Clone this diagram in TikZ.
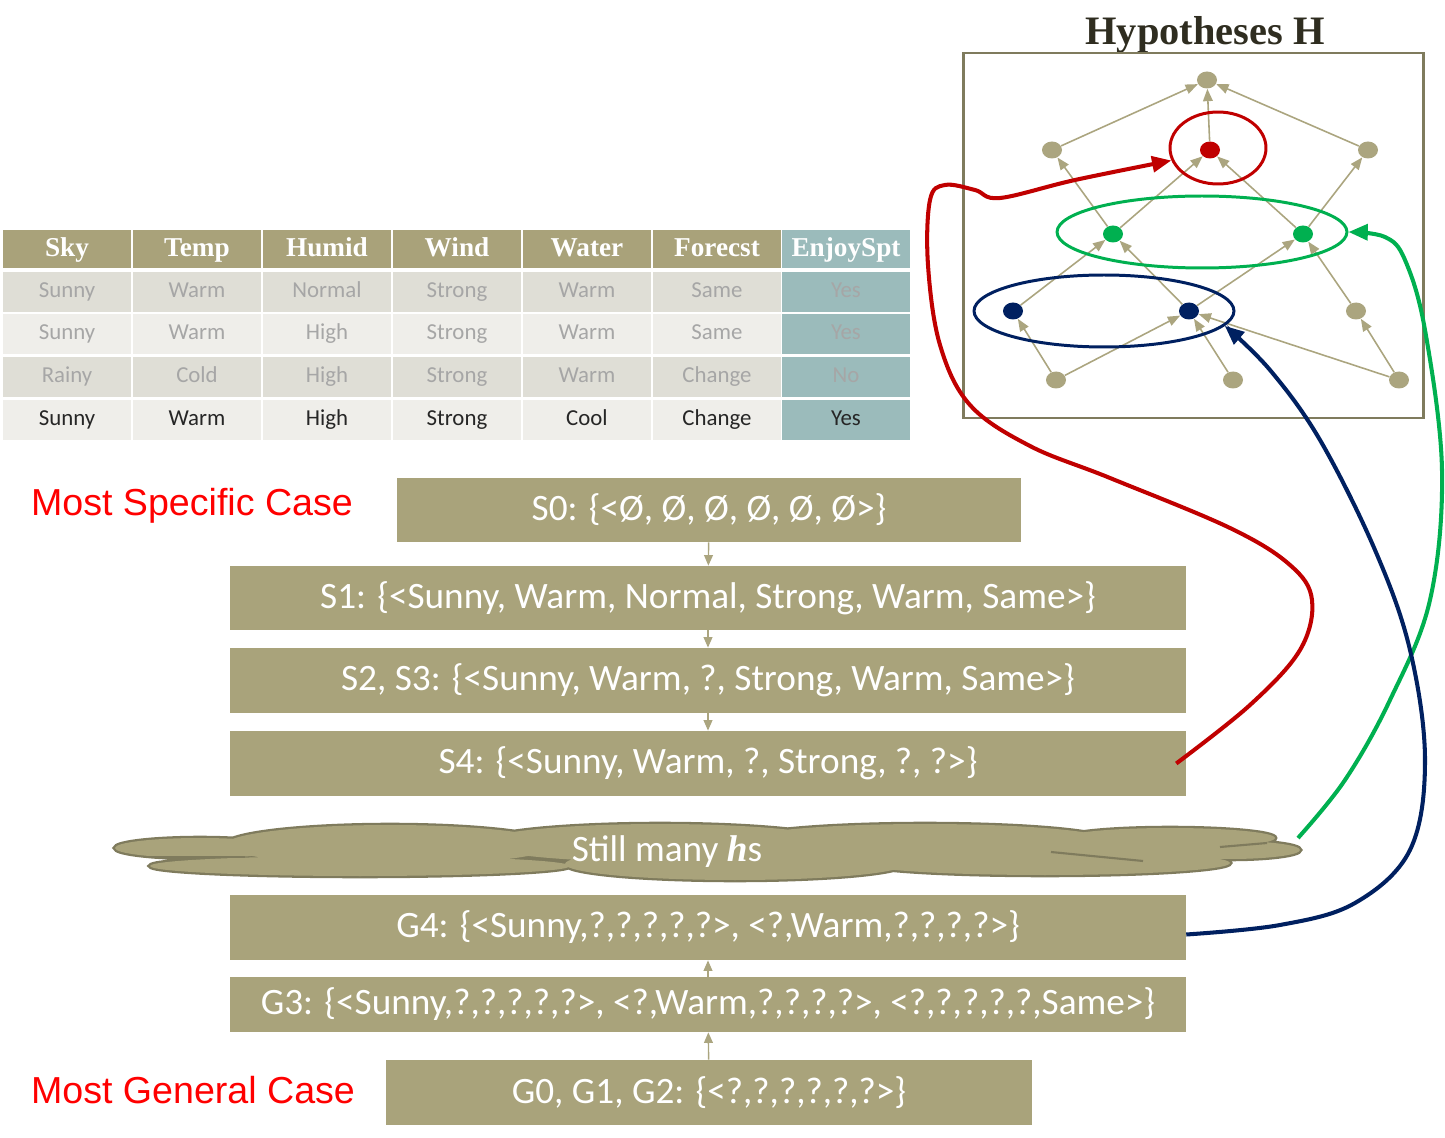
\documentclass[tikz,border=0pt]{standalone}
\usepackage{fontspec}
\setmainfont{Carlito}
\newfontfamily\headfont{Liberation Serif}
\newfontfamily\casefont{Liberation Sans}
\usetikzlibrary{arrows.meta,shapes.geometric}

\definecolor{boxtan}{HTML}{A9A37B}
\definecolor{headtan}{HTML}{A9A27A}
\definecolor{headteal}{HTML}{9BBBBB}
\definecolor{rowa}{HTML}{DFDED6}
\definecolor{rowb}{HTML}{EFEEEA}
\definecolor{fade}{HTML}{A6A6A6}
\definecolor{ink}{HTML}{262626}
\definecolor{frame}{HTML}{7F7B5D}
\definecolor{edgetan}{HTML}{ABA57F}
\definecolor{hred}{HTML}{C00000}
\definecolor{hgreen}{HTML}{00B050}
\definecolor{hnavy}{HTML}{002060}
\definecolor{casered}{HTML}{FF0000}
\definecolor{titleink}{HTML}{2F2D20}

\begin{document}
\begin{tikzpicture}[x=0.02cm, y=-0.02cm,
    stepbox/.style = {fill=boxtan, inner sep=0pt, text=white,
                      font=\fontsize{21.2}{25}\selectfont},
    flow/.style    = {draw=edgetan, line width=0.8pt, -{Triangle[length=6pt,width=5pt]}},
    cell/.style    = {minimum width=2.56cm, minimum height=0.8cm, inner sep=0pt,
                      text height=1.6ex, text depth=0.4ex,
                      font=\fontsize{13}{16}\selectfont},
    headcell/.style= {cell, fill=headtan, minimum height=0.76cm, text=white,
                      text height=1.9ex, text depth=0.1ex,
                      font=\headfont\bfseries\fontsize{15.5}{18}\selectfont},
    rowA/.style    = {cell, fill=rowa, text=fade},
    rowB/.style    = {cell, fill=rowb, text=fade},
    rowC/.style    = {cell, fill=rowb, text=ink},
    dot/.style     = {ellipse, fill=edgetan, minimum width=0.4cm, minimum height=0.34cm, inner sep=0pt},
    edge/.style    = {draw=edgetan, line width=0.9pt, -{Triangle[length=7pt,width=5.5pt]}},
    ring/.style    = {ellipse, draw, line width=1.7pt, inner sep=0pt},
    link/.style    = {line width=2.3pt, -{Triangle[length=11pt,width=9pt]}},
    puffline/.style= {draw=frame, line width=2.6pt},
    case/.style    = {text=casered, font=\casefont\fontsize{21.4}{25}\selectfont}]
\useasboundingbox (0,0) rectangle (1445,1138);

% table
\node[headcell] (h1) at (67,249) {Sky};
\node[headcell] (h2) at (197,249) {Temp};
\node[headcell] (h3) at (327,249) {Humid};
\node[headcell] (h4) at (457,249) {Wind};
\node[headcell] (h5) at (587,249) {Water};
\node[headcell] (h6) at (717,249) {Forecst};
\node[headcell, fill=headteal] (h7) at (846,249) {EnjoySpt};

\node[rowA] (a1) at (67,292) {Sunny};
\node[rowA] (a2) at (197,292) {Warm};
\node[rowA] (a3) at (327,292) {Normal};
\node[rowA] (a4) at (457,292) {Strong};
\node[rowA] (a5) at (587,292) {Warm};
\node[rowA] (a6) at (717,292) {Same};
\node[rowA, fill=headteal] (a7) at (846,292) {Yes};

\node[rowB] (b1) at (67,334) {Sunny};
\node[rowB] (b2) at (197,334) {Warm};
\node[rowB] (b3) at (327,334) {High};
\node[rowB] (b4) at (457,334) {Strong};
\node[rowB] (b5) at (587,334) {Warm};
\node[rowB] (b6) at (717,334) {Same};
\node[rowB, fill=headteal] (b7) at (846,334) {Yes};

\node[rowA] (c1) at (67,377) {Rainy};
\node[rowA] (c2) at (197,377) {Cold};
\node[rowA] (c3) at (327,377) {High};
\node[rowA] (c4) at (457,377) {Strong};
\node[rowA] (c5) at (587,377) {Warm};
\node[rowA] (c6) at (717,377) {Change};
\node[rowA, fill=headteal] (c7) at (846,377) {No};

\node[rowC] (d1) at (67,420) {Sunny};
\node[rowC] (d2) at (197,420) {Warm};
\node[rowC] (d3) at (327,420) {High};
\node[rowC] (d4) at (457,420) {Strong};
\node[rowC] (d5) at (587,420) {Cool};
\node[rowC] (d6) at (717,420) {Change};
\node[rowC, fill=headteal] (d7) at (846,420) {Yes};

% hypothesis space
\node[text=titleink, font=\headfont\bfseries\fontsize{23}{26}\selectfont] (title) at (1205,35) {Hypotheses H};
\draw[frame, line width=1.7pt] (963,53) rectangle (1423,418);

\node[dot] (top) at (1207,80) {};
\node[dot] (l2a) at (1052,150) {};
\node[dot, fill=hred] (l2b) at (1210,150) {};
\node[dot] (l2c) at (1368,150) {};
\node[dot, fill=hgreen] (l3a) at (1113,234) {};
\node[dot, fill=hgreen] (l3b) at (1303,234) {};
\node[dot, fill=hnavy] (l4a) at (1013,311) {};
\node[dot, fill=hnavy] (l4b) at (1189,311) {};
\node[dot] (l4c) at (1356,311) {};
\node[dot] (l5a) at (1056,380) {};
\node[dot] (l5b) at (1233,380) {};
\node[dot] (l5c) at (1399,380) {};

\draw[edge] (l2a) -- (top);
\draw[edge] (l2b) -- (top);
\draw[edge] (l2c) -- (top);
\draw[edge] (l3a) -- (l2a);
\draw[edge] (l3a) -- (l2b);
\draw[edge] (l3b) -- (l2b);
\draw[edge] (l3b) -- (l2c);
\draw[edge] (l4a) -- (l3a);
\draw[edge] (l4b) -- (l3a);
\draw[edge] (l4b) -- (l3b);
\draw[edge] (l4c) -- (l3b);
\draw[edge] (l5a) -- (l4a);
\draw[edge] (l5a) -- (l4b);
\draw[edge] (l5b) -- (l4b);
\draw[edge] (l5c) -- (l4b);
\draw[edge] (l5c) -- (l4c);

\node[ring, draw=hred, minimum width=1.92cm, minimum height=1.44cm] (redring) at (1218,148) {};
\node[ring, draw=hgreen, minimum width=5.8cm, minimum height=1.44cm] (greenring) at (1202,232) {};
\node[ring, draw=hnavy, minimum width=5.2cm, minimum height=1.44cm] (navyring) at (1104,311) {};

% version space
\node[case] (specific) at (192,506) {Most Specific Case};
\node[case] (general) at (193,1090) {Most General Case};

\node[stepbox, minimum width=12.48cm, minimum height=1.28cm] (s0) at (709,510) {S0: \{<Ø, Ø, Ø, Ø, Ø, Ø>\}};
\node[stepbox, minimum width=19.12cm, minimum height=1.28cm] (s1) at (708,598) {S1: \{<Sunny, Warm, Normal, Strong, Warm, Same>\}};
\node[stepbox, minimum width=19.12cm, minimum height=1.3cm] (s23) at (708,680.5) {S2, S3: \{<Sunny, Warm, ?, Strong, Warm, Same>\}};
\node[stepbox, minimum width=19.12cm, minimum height=1.3cm] (s4) at (708,763.5) {S4: \{<Sunny, Warm, ?, Strong, ?, ?>\}};

% cloud: outlines first, fills on top
\path[puffline] (200,848) ellipse [x radius=85, y radius=10]
                (390,845) ellipse [x radius=165, y radius=20]
                (360,866) ellipse [x radius=210, y radius=10]
                (660,843) ellipse [x radius=180, y radius=19]
                (735,864) ellipse [x radius=170, y radius=16]
                (925,841) ellipse [x radius=185, y radius=17]
                (1045,863) ellipse [x radius=185, y radius=12]
                (1170,838) ellipse [x radius=105, y radius=10]
                (1230,850) ellipse [x radius=70, y radius=9];
\path[fill=boxtan] (200,848) ellipse [x radius=85, y radius=10]
                (390,845) ellipse [x radius=165, y radius=20]
                (360,866) ellipse [x radius=210, y radius=10]
                (660,843) ellipse [x radius=180, y radius=19]
                (735,864) ellipse [x radius=170, y radius=16]
                (925,841) ellipse [x radius=185, y radius=17]
                (1045,863) ellipse [x radius=185, y radius=12]
                (1170,838) ellipse [x radius=105, y radius=10]
                (1230,850) ellipse [x radius=70, y radius=9]
                (1115,850) ellipse [x radius=95, y radius=9];
\draw[frame, line width=1.2pt] (145,857) -- (245,857);
\draw[frame, line width=1.2pt] (1051,852) -- (1143,861);
\draw[frame, line width=1.2pt] (1220,847) -- (1267,843);
\node[text=white, font=\fontsize{21.2}{25}\selectfont] (cloudtext) at (667,852) {Still many {\headfont\bfseries\itshape h}s};
\coordinate (cloudtip) at (1298,838);

\node[stepbox, minimum width=19.12cm, minimum height=1.3cm] (g4) at (708,927.5) {G4: \{<Sunny,?,?,?,?,?>, <?,Warm,?,?,?,?>\}};
\node[stepbox, minimum width=19.12cm, minimum height=1.1cm] (g3) at (708,1004.5) {G3: \{<Sunny,?,?,?,?,?>, <?,Warm,?,?,?,?>, <?,?,?,?,?,Same>\}};
\node[stepbox, minimum width=12.92cm, minimum height=1.3cm] (g0) at (709,1092.5) {G0, G1, G2: \{<?,?,?,?,?,?>\}};

\draw[flow] (s0) -- (s1);
\draw[flow] (s1) -- (s23);
\draw[flow] (s23) -- (s4);
\draw[flow] (g3) -- (g4);
\draw[flow] (g0) -- (g3);

% links into H
\draw[link, hred] plot[smooth, tension=0.6] coordinates {([xshift=-0.2cm]s4.east) (1250,705) (1300,650) (1312,600) (1290,565) (1230,528) (1110,478) (1030,446) (970,405) (940,345) (928,265) (930,200) (945,185) (975,190) (1000,198) (1075,180) (redring.195)};
\draw[link, hgreen] plot[smooth, tension=0.6] coordinates {(cloudtip) (1345,780) (1390,700) (1430,600) (1442,470) (1425,330) (1405,260) (1385,237) (greenring.east)};
\draw[link, hnavy] plot[smooth, tension=0.6] coordinates {([yshift=-0.14cm]g4.east) (1280,925) (1355,903) (1410,850) (1425,760) (1410,650) (1375,550) (1320,440) (1270,370) (navyring.-7)};
\end{tikzpicture}
\end{document}
